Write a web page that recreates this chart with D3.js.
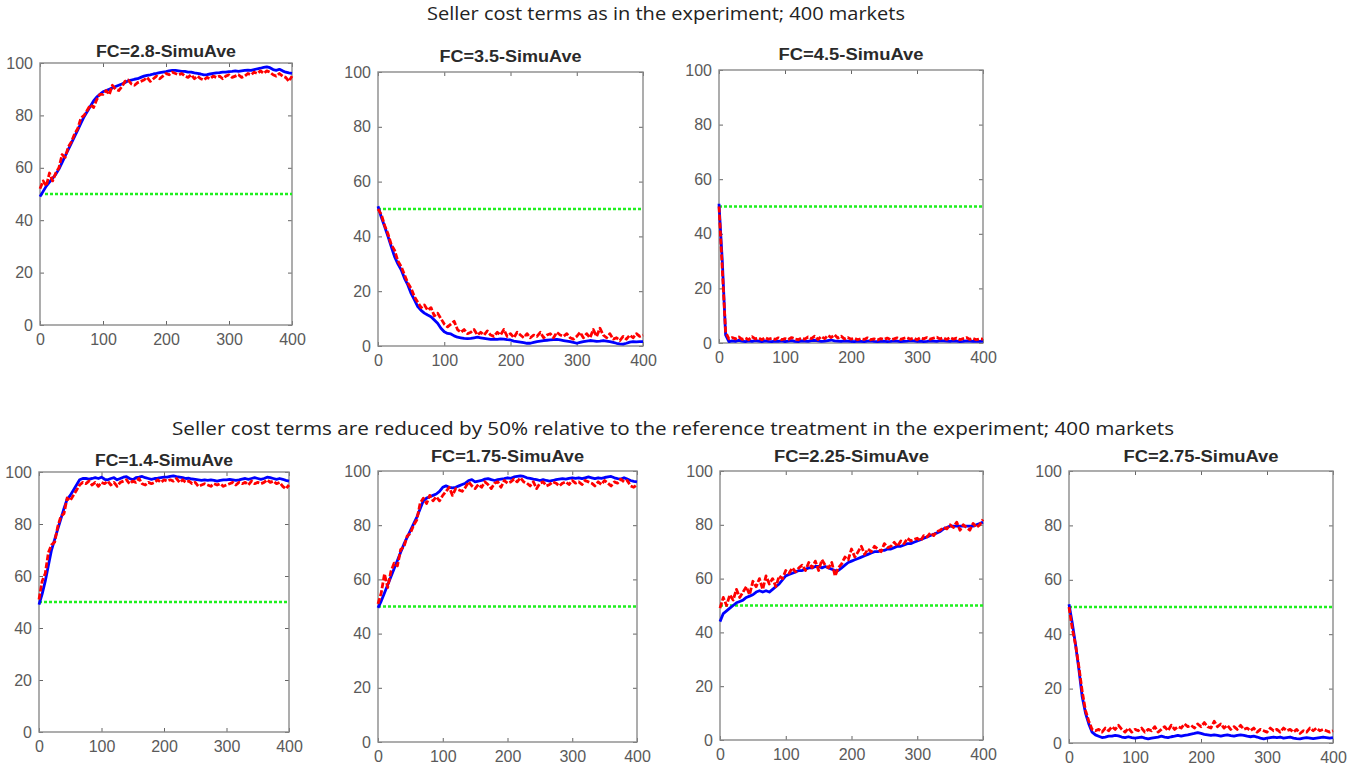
<!DOCTYPE html>
<html>
<head>
<meta charset="utf-8">
<script src="https://cdn.jsdelivr.net/npm/d3@7"></script>
<style>
  body { margin: 0; background: #fff; }
  svg { display: block; }
</style>
</head>
<body>
<div id="chart-area"></div>
<script>
// market index (every 5th market)
const markets = [
  0, 5, 10, 15, 20, 25, 30, 35, 40, 45,
  50, 55, 60, 65, 70, 75, 80, 85, 90, 95,
  100, 105, 110, 115, 120, 125, 130, 135, 140, 145,
  150, 155, 160, 165, 170, 175, 180, 185, 190, 195,
  200, 205, 210, 215, 220, 225, 230, 235, 240, 245,
  250, 255, 260, 265, 270, 275, 280, 285, 290, 295,
  300, 305, 310, 315, 320, 325, 330, 335, 340, 345,
  350, 355, 360, 365, 370, 375, 380, 385, 390, 395,
  400
]

const headers = [
  "Seller cost terms as in the experiment; 400 markets",
  "Seller cost terms are reduced by 50% relative to the reference treatment in the experiment; 400 markets"
]

const titles = ["FC=2.8-SimuAve", "FC=3.5-SimuAve", "FC=4.5-SimuAve",
  "FC=1.4-SimuAve", "FC=1.75-SimuAve", "FC=2.25-SimuAve", "FC=2.75-SimuAve"]

const xTicks = [0, 100, 200, 300, 400]
const yTicks = [0, 20, 40, 60, 80, 100]
const benchmark = 50

// FC=2.8
const blue28 = [
  49, 51, 53, 54.5, 56, 57.5, 59.5, 62, 64.5, 67,
  69.5, 72, 74.5, 77, 79.5, 81.5, 83.5, 85.5, 87, 88,
  89, 89.5, 90, 90.5, 91, 91.5, 92, 92.5, 93.2, 93.5,
  93.8, 94, 94.5, 95, 95.3, 95.5, 95.8, 96, 96.3, 96.5,
  96.7, 97, 97.2, 97.2, 97, 96.8, 96.8, 96.5, 96.5, 96.2,
  96, 95.8, 95.5, 95.6, 95.8, 96, 96.2, 96.3, 96.5, 96.5,
  96.7, 96.8, 97, 96.8, 97, 97.2, 97.3, 97.2, 97.5, 97.8,
  98, 98.3, 98.5, 98.2, 97.5, 97.2, 97.6, 97, 96.5, 96.2,
  96
]
const red28 = [
  52, 55, 53, 58, 55, 58, 60, 65, 64, 68,
  70, 73, 75, 79, 80, 82, 84, 83, 86, 88,
  88, 89.5, 88, 91.5, 90, 89.5, 91, 93, 93.5, 92,
  91.5, 92.5, 93, 93.5, 94.5, 93, 94, 95, 94, 95,
  96, 95.5, 96.5, 96, 95.5, 96, 95, 94.5, 95.5, 94,
  95, 94, 93.5, 94.5, 94, 95, 94.5, 95, 94, 95,
  95.5, 94.5, 95, 95.5, 94.5, 95, 96, 95.5, 96.5, 96,
  97, 96, 97, 96.5, 95.5, 95, 96, 95, 94.5, 93,
  95
]

// FC=3.5
const blue35 = [
  51, 47, 43.6, 40, 36.3, 32.6, 30, 27.8, 24.7, 22.3,
  19.2, 16.8, 14.4, 13, 12, 11.3, 10.7, 9.5, 8.3, 6.5,
  5.2, 4.6, 4.4, 3.7, 3.2, 3, 2.8, 2.7, 2.8, 3,
  3.2, 3, 2.8, 2.6, 2.4, 2.5, 2.4, 2.6, 2.5, 2.3,
  2.2, 1.8, 1.6, 1.4, 1.2, 1, 1, 1.3, 1.6, 1.8,
  2, 2.1, 2.2, 2.3, 2.4, 2.2, 2, 1.8, 1.6, 1.3,
  1, 1.3, 1.6, 1.8, 2, 1.9, 1.7, 1.8, 2, 1.8,
  1.6, 1.3, 1, 0.8, 0.7, 1, 1.4, 1.6, 1.5, 1.6,
  1.6
]
const red35 = [
  50, 48, 44, 41, 37, 35, 31, 29, 26, 23,
  21, 18, 16, 14, 15, 13, 14, 11, 12, 10,
  8, 7, 8, 9, 6, 5, 6, 4.5, 5, 6,
  4, 5, 4, 5.5, 4, 3.5, 5, 4, 6, 3.5,
  4.5, 3, 5, 4, 3, 4.5, 3, 4, 3.5, 5,
  3, 4, 4.5, 3, 5, 4, 3.5, 4.5, 3, 2.5,
  3.5, 5, 3, 4.5, 3, 6, 3.5, 6.5, 4, 3,
  4.5, 2.5, 3, 2, 3.5, 2.5, 4, 3, 4.5, 3.5,
  4
]

// FC=4.5
const blue45 = [
  51, 30, 3, 0.5, 0.8, 0.6, 1, 0.7, 0.5, 0.8,
  0.6, 0.9, 0.7, 0.5, 0.8, 0.6, 0.5, 0.7, 0.6, 0.8,
  0.5, 0.7, 0.9, 0.6, 0.5, 0.8, 0.7, 0.6, 0.9, 1,
  0.8, 0.6, 0.7, 0.9, 1.1, 0.8, 0.7, 0.6, 0.8, 0.7,
  0.6, 0.5, 0.7, 0.6, 0.5, 0.7, 0.8, 0.6, 0.5, 0.6,
  0.7, 0.5, 0.6, 0.8, 0.7, 0.5, 0.6, 0.7, 0.9, 0.8,
  0.6, 0.7, 0.5, 0.6, 0.8, 0.7, 0.6, 0.9, 0.8, 0.7,
  0.6, 0.8, 0.7, 0.5, 0.6, 0.8, 0.7, 0.6, 0.7, 0.6,
  0.7
]
const red45 = [
  50, 27, 4, 1.5, 2, 1.5, 2.2, 1.3, 1.8, 1.2,
  2.3, 1.5, 1.8, 1.2, 2, 1.4, 1.7, 1.3, 1.9, 1.2,
  1.6, 1.3, 2, 1.5, 1.2, 1.8, 1.4, 2.2, 1.6, 2.5,
  1.3, 2.4, 1.6, 2.8, 2, 3, 1.8, 2.5, 1.5, 2,
  1.4, 1.8, 1.2, 1.6, 1.3, 1.9, 1.2, 1.5, 1.1, 1.6,
  1.3, 1.8, 1.2, 1.5, 1.9, 1.3, 1.7, 2, 1.4, 1.8,
  1.2, 1.9, 1.5, 2, 1.4, 1.8, 2.1, 1.5, 1.9, 1.3,
  2, 1.4, 1.8, 1.2, 1.6, 2, 1.3, 1.7, 1.2, 1.5,
  1.4
]

// FC=1.4
const blue14 = [
  49, 53, 58, 64, 70, 74, 78, 82, 86, 89.5,
  91, 93, 95, 97, 97.5, 97.5, 97.3, 97.5, 97.8, 97.5,
  98, 97.2, 97, 97.5, 97.8, 97, 97.5, 98, 98.2, 97.5,
  97, 97.8, 98, 98.3, 97.8, 97.5, 97.2, 97.5, 97.6, 97.8,
  98, 98, 98.3, 98.5, 98.2, 98, 97.8, 97.5, 97.6, 97.3,
  97.2, 97, 96.8, 97, 96.8, 97, 96.8, 96.5, 96.8, 97,
  97, 97.2, 97, 96.8, 97, 97.3, 97.5, 97.2, 97.5, 97.8,
  97.5, 97.2, 97.5, 98, 97.8, 97.5, 97.2, 97.5, 97.2, 96.8,
  96.5
]
const red14 = [
  51, 58, 61, 69, 72, 73, 79, 83, 84, 90,
  89, 91, 93, 95, 96, 95.5, 96.5, 95, 96, 94.5,
  96, 95.5, 96.5, 95, 96, 94.5, 96, 96.5, 97, 95.5,
  96.5, 96, 97.5, 95.5, 95, 96, 95.5, 96, 97, 96,
  97, 96.5, 97, 96.5, 97.5, 96, 97, 96, 96.5, 95.5,
  96, 94.5, 95, 95.5, 95, 94.5, 95.5, 95, 95.5, 94.5,
  95, 95.5, 96, 95, 96, 95.5, 96, 95, 96.5, 95.5,
  96, 95.5, 96, 97, 96, 96.5, 95.5, 96, 94.5, 93.5,
  95
]

// FC=1.75
const blue175 = [
  49.5, 52, 55, 58, 61, 64, 67, 70, 73, 75.5,
  78, 80.5, 83, 86, 89, 90, 90.5, 91, 91.5, 92.5,
  94, 94.5, 94, 93.8, 94, 94.5, 95, 95.5, 96.5, 96.8,
  96, 96.3, 96.5, 97, 97.2, 96.8, 96.5, 96.8, 97, 97.2,
  97.5, 97.3, 97.8, 98, 98.2, 98, 97.5, 97.3, 97, 96.8,
  96.5, 96.8, 96.5, 96.3, 96.5, 96.8, 97, 97.2, 97, 97.3,
  97.5, 97.3, 97.5, 97.2, 97.5, 97.8, 97.5, 97.2, 97.5, 97.3,
  97.6, 97.8, 98, 97.5, 97.2, 97, 97.5, 97, 96.5, 96.2,
  96
]
const red175 = [
  51, 55, 62, 57, 63, 66, 65, 71, 72, 76,
  77, 80, 82, 88, 90, 88, 91, 89, 90.5, 89,
  91, 92.5, 94, 91, 93.5, 93, 92.5, 94, 96, 94.5,
  93.5, 95, 94, 96, 95, 93.5, 95.5, 96, 94, 96.5,
  95.5, 96, 97, 96, 97.5, 96, 95.5, 94.5, 96, 93.5,
  95.5, 96, 94.5, 95, 96, 95.5, 94.5, 95.5, 96, 95,
  96.5, 95.5, 96, 95, 96.5, 96, 95.5, 94.5, 96, 95,
  96.5, 95.5, 94.5, 96, 95.5, 97, 96, 96.5, 94.5, 94,
  95
]

// FC=2.25
const blue225 = [
  44, 47, 48, 49, 50, 51, 51.5, 52, 53, 53.5,
  54, 55, 55.5, 55, 55.5, 55, 56, 57, 58, 59.5,
  61, 61.5, 62, 62.5, 63, 63, 63.5, 64, 64, 64.5,
  64.5, 64, 64.5, 64, 63.5, 63, 63, 64, 65, 66,
  66.5, 67, 67.5, 68, 68.5, 69, 69.5, 70, 70, 70.5,
  70.5, 71, 71, 71.5, 72, 72, 72.5, 73, 73, 73.5,
  74, 74.5, 75, 75.5, 76, 76.5, 77, 77.5, 78.5, 79,
  79.5, 79.5, 79.5, 79.5, 79.5, 79.5, 79.5, 79.5, 80, 80.5,
  81
]
const red225 = [
  49, 53, 50, 54, 52, 56, 53, 55, 57, 54,
  59, 57, 60, 56, 61, 58, 60, 57, 61, 60,
  63, 62, 64, 62.5, 64, 65, 63, 66, 64, 66.5,
  63, 67, 65, 64, 66, 61, 64, 65.5, 68, 67,
  71, 68, 70, 72, 69, 71, 70, 72, 71, 70,
  73, 71.5, 72, 73.5, 72, 74, 73, 75, 74, 74.5,
  75, 74, 76, 75.5, 77, 76, 77.5, 78, 79, 78.5,
  80, 79, 81, 78, 80, 79, 78, 80.5, 79, 80,
  82
]

// FC=2.75
const blue275 = [
  51, 44, 36, 27, 17, 11, 7, 4, 3, 2.5,
  2, 2.2, 2.5, 2.5, 2.8, 2.6, 2.2, 2, 2.3, 2,
  1.8, 2, 2.2, 1.8, 1.5, 1.8, 2, 2.2, 2.5, 2.2,
  2, 2.3, 2.5, 2.8, 2.5, 2.8, 3, 3.3, 3.5, 3.8,
  3.5, 3.2, 3, 2.8, 3, 2.8, 2.5, 2.8, 3, 2.7,
  2.5, 2.8, 3, 2.8, 2.5, 2.3, 2.5, 2.2, 1.8, 1.5,
  1.8, 2, 2.2, 2, 2.2, 1.8, 2, 2.2, 1.8, 1.6,
  1.5, 1.8, 2, 1.8, 1.6, 1.8, 2, 2.2, 2, 1.8,
  2
]
const red275 = [
  50, 42, 36, 28, 19, 12, 8, 5, 4.5, 5,
  4, 5.5, 4.5, 6, 5, 6.5, 5, 4, 5.5, 4,
  5, 4.5, 5.5, 4, 5, 4.5, 6, 4, 5, 6,
  4.5, 6.5, 5, 6, 5.5, 7, 6, 6.5, 5.5, 7,
  6, 7.5, 6, 5.5, 8, 6, 7, 5.5, 6.5, 5,
  6, 5, 6.5, 5, 5.5, 4.5, 5.5, 4, 5, 4.5,
  4, 5.5, 4.5, 5, 4, 5.5, 4.5, 5, 4, 5,
  3.5, 4.5, 4, 5.5, 4.5, 5.5, 4.5, 5, 4.5, 4,
  4.5
]

const blues = [blue28, blue35, blue45, blue14, blue175, blue225, blue275]
const reds = [red28, red35, red45, red14, red175, red225, red275]

// plot boxes [left, top, right, bottom] and title width / gap
const boxes = [
  [40, 63, 292, 325], [378, 72, 643, 346], [719, 70, 983, 343],
  [39, 472, 289, 732], [378, 471, 637, 742], [720, 471, 983, 740], [1069, 471, 1333, 743]
]
const titleWidths = [140, 142, 145, 138, 153, 155, 155]
const titleGaps = [6, 10, 10, 6, 9, 9, 9]

const W = 1364, H = 773

const svg = d3.select("#chart-area").append("svg")
  .attr("width", W)
  .attr("height", H)

svg.append("rect").attr("width", W).attr("height", H).attr("fill", "#fff")

// section headers
svg.append("text")
  .attr("x", 427).attr("y", 20)
  .attr("textLength", 478).attr("lengthAdjust", "spacingAndGlyphs")
  .style("font-family", "'Open Sans', sans-serif").style("font-size", "18px")
  .attr("fill", "#222")
  .text(headers[0])
svg.append("text")
  .attr("x", 172).attr("y", 435)
  .attr("textLength", 1002).attr("lengthAdjust", "spacingAndGlyphs")
  .style("font-family", "'Open Sans', sans-serif").style("font-size", "18px")
  .attr("fill", "#222")
  .text(headers[1])

const font = "'Liberation Sans', Arial, sans-serif"

titles.forEach((title, p) => {
  const [l, t, r, b] = boxes[p]
  const x = d3.scaleLinear().domain([0, 400]).range([l, r])
  const y = d3.scaleLinear().domain([0, 100]).range([b, t])
  const g = svg.append("g")

  g.append("text")
    .attr("x", (l + r) / 2 - titleWidths[p] / 2)
    .attr("y", t - titleGaps[p])
    .attr("textLength", titleWidths[p]).attr("lengthAdjust", "spacingAndGlyphs")
    .style("font-family", font).style("font-size", "16px").style("font-weight", "bold")
    .attr("fill", "#2a2a2a")
    .text(title)

  // axes, ticks pointing inward as in MATLAB
  const styleAxis = sel => {
    sel.select(".domain").remove()
    sel.selectAll("line").attr("stroke", "#666")
    sel.selectAll("text").attr("fill", "#5a5a5a")
      .style("font-family", font).style("font-size", "16px")
  }
  g.append("g").attr("transform", `translate(0,${b})`)
    .call(d3.axisBottom(x).tickValues(xTicks).tickSize(-4).tickPadding(9))
    .call(styleAxis)
  g.append("g").attr("transform", `translate(${l},0)`)
    .call(d3.axisLeft(y).tickValues(yTicks).tickSize(-4).tickPadding(7))
    .call(styleAxis)
  g.append("g").attr("transform", `translate(0,${t})`)
    .call(d3.axisTop(x).tickValues(xTicks).tickSize(-4).tickFormat(""))
    .call(styleAxis)
  g.append("g").attr("transform", `translate(${r},0)`)
    .call(d3.axisRight(y).tickValues(yTicks).tickSize(-4).tickFormat(""))
    .call(styleAxis)

  g.append("rect")
    .attr("x", l).attr("y", t).attr("width", r - l).attr("height", b - t)
    .attr("fill", "none").attr("stroke", "#8a8a8a").attr("stroke-width", 1.4)

  // benchmark line
  g.append("line")
    .attr("x1", x(0)).attr("x2", x(400))
    .attr("y1", y(benchmark)).attr("y2", y(benchmark))
    .attr("stroke", "#1ef01e").attr("stroke-width", 2.6)
    .attr("stroke-dasharray", "3,2")

  const line = d3.line()
    .x((d, i) => x(markets[i]))
    .y(d => y(d))

  g.append("path").datum(blues[p])
    .attr("d", line)
    .attr("fill", "none").attr("stroke", "#0000ff").attr("stroke-width", 2.8)
    .attr("stroke-linejoin", "round")

  g.append("path").datum(reds[p])
    .attr("d", line)
    .attr("fill", "none").attr("stroke", "#ff0000").attr("stroke-width", 2.8)
    .attr("stroke-dasharray", "6,2")
    .attr("stroke-linejoin", "round")
})
</script>
</body>
</html>
